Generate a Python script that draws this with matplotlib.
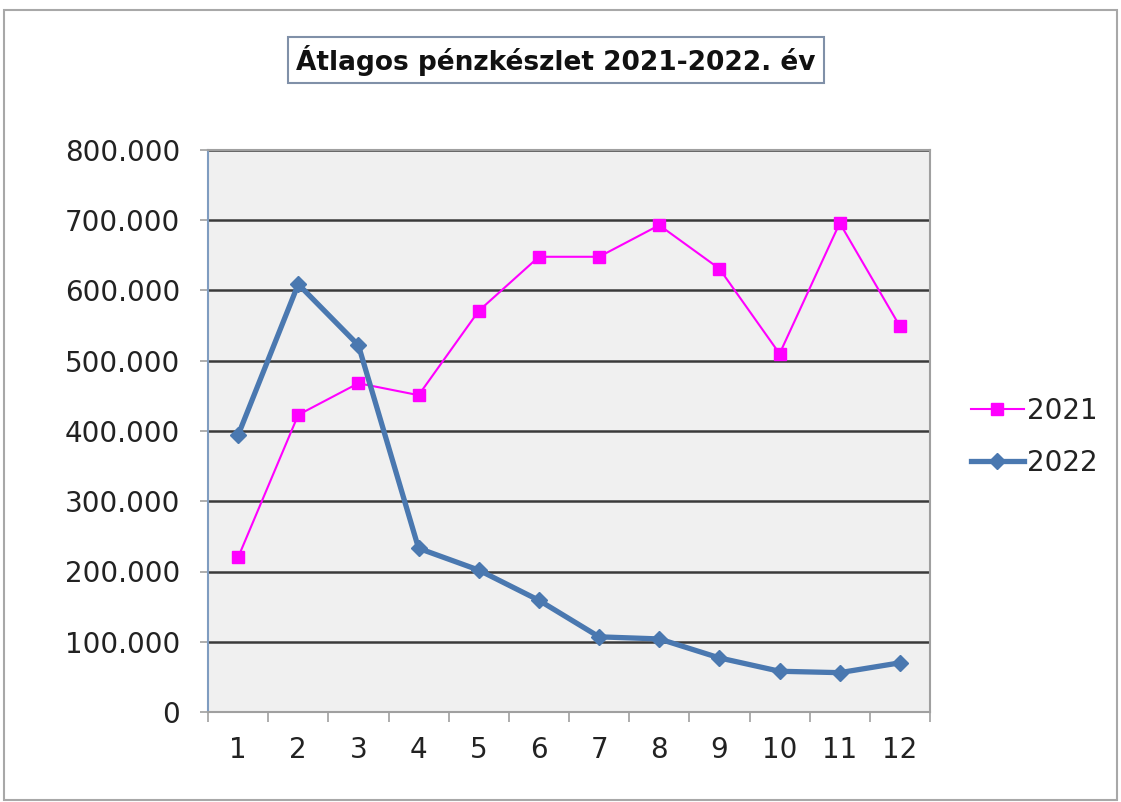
import matplotlib
matplotlib.use("Agg")
import matplotlib.pyplot as plt
from matplotlib.ticker import FuncFormatter, FixedLocator
from matplotlib.patches import Rectangle

months = [str(i) for i in range(1, 13)]
s2021 = [220000, 423000, 468000, 451000, 571000, 648000, 648000, 693000, 631000, 510000, 696000, 549000]
s2022 = [394000, 609000, 522000, 233000, 202000, 159000, 107000, 104000, 77000, 58000, 56000, 70000]
title = "Átlagos pénzkészlet 2021-2022. év"
yticks = [0, 100000, 200000, 300000, 400000, 500000, 600000, 700000, 800000]

plt.rcParams['font.family'] = ['DejaVu Sans']

fig = plt.figure(figsize=(11.21, 8.02), dpi=100)
fig.patch.set_facecolor('white')
ax = fig.add_axes([208/1121, 1-712/802, (930-208)/1121, (712-150)/802])
ax.set_facecolor('#f0f0f0')

x = list(range(len(months)))
ax.plot(x, s2021, color='#ff00ff', lw=1.5, marker='s', ms=9, mec='#ff00ff', mfc='#ff00ff', label='2021', zorder=3)
ax.plot(x, s2022, color='#4a78b0', lw=3.8, marker='D', ms=8, mec='#4a78b0', mfc='#4a78b0', label='2022', zorder=4)

ax.set_xlim(-0.5, len(months) - 0.5)
ax.set_ylim(0, 800000)
ax.set_xticks(x)
ax.set_xticklabels(months)
ax.xaxis.set_minor_locator(FixedLocator([i - 0.5 for i in range(len(months) + 1)]))
ax.tick_params(axis='x', which='major', length=0, pad=17, labelsize=20, colors='#222222')
ax.tick_params(axis='x', which='minor', length=7, width=1.2, color='#a0a0a0', direction='out')
ax.set_yticks(yticks)
ax.yaxis.set_major_formatter(FuncFormatter(lambda v, p: f"{int(v):,}".replace(',', '.')))
ax.tick_params(axis='y', length=6, width=1.2, color='#a0a0a0', labelsize=20, pad=14, labelcolor='#222222')

ax.grid(axis='y', color='#3a3a3a', lw=1.8, zorder=1)
ax.set_axisbelow(True)
for side in ['top', 'right']:
    ax.spines[side].set_color('#a0a0a0')
    ax.spines[side].set_linewidth(1.5)
ax.spines['left'].set_color('#7f9cc0')
ax.spines['left'].set_linewidth(1.5)
ax.spines['bottom'].set_color('#a0a0a0')
ax.spines['bottom'].set_linewidth(1.5)

fig.text(556/1121, 1-60/802, title, ha='center', va='center', fontsize=19, fontweight='bold',
         color='#111111',
         bbox=dict(boxstyle='square,pad=0.3', fc='white', ec='#8090a8', lw=1.5))

leg = fig.legend(loc='center left', bbox_to_anchor=(946/1121, 1-437/802), frameon=False,
                 fontsize=20, handlelength=1.9, handletextpad=0.1, labelspacing=0.85)
for t in leg.get_texts():
    t.set_color('#222222')

fig.patches.append(Rectangle((4/1121, 0.002), 1113/1121, 1-10/802 - 0.002, transform=fig.transFigure,
                             fill=False, ec='#a8a8a8', lw=1.5))

fig.savefig('out.png', dpi=100)
